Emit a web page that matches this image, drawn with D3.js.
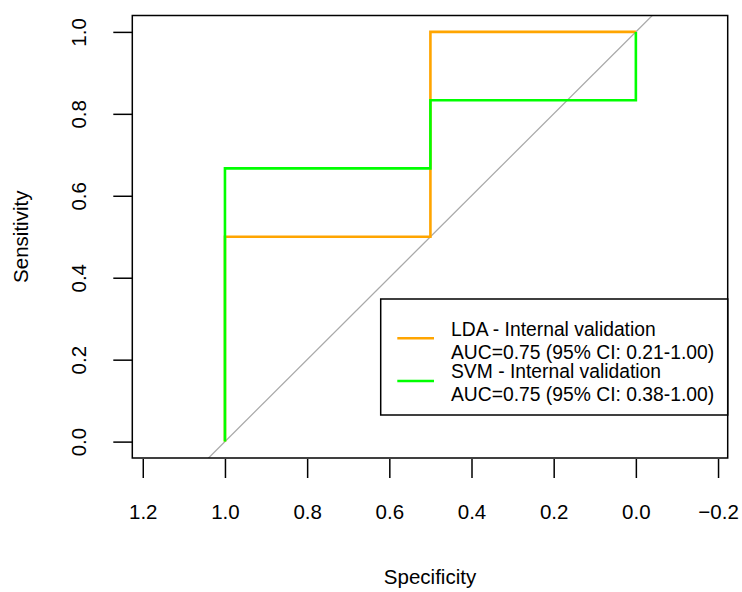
<!DOCTYPE html>
<html>
<head>
<meta charset="utf-8">
<script src="https://cdn.jsdelivr.net/npm/d3@7"></script>
<style>
  body { margin: 0; background: #fff; }
  svg { display: block; font-family: "Liberation Sans", Arial, sans-serif; }
</style>
</head>
<body>
<svg id="chart"></svg>
<script>
// ROC points (specificity, sensitivity)
var ldaSpec = [1, 1, 0.5, 0.5, 0];
var ldaSens = [0, 0.5, 0.5, 1, 1];
var svmSpec = [1, 1, 0.5, 0.5, 0, 0];
var svmSens = [0, 0.667, 0.667, 0.833, 0.833, 1];

var xTicks = [1.2, 1.0, 0.8, 0.6, 0.4, 0.2, 0.0, -0.2];
var yTicks = [0.0, 0.2, 0.4, 0.6, 0.8, 1.0];

var legendNames = ["LDA - Internal validation", "SVM - Internal validation"];
var legendAuc = ["AUC=0.75 (95% CI: 0.21-1.00)", "AUC=0.75 (95% CI: 0.38-1.00)"];
var colors = ["#FFA500", "#00FF00"];

drawChart();

function drawChart() {
  var width = 742, height = 592;
  var left = 132.3, right = 727.7, top = 15.5, bottom = 458;

  var svg = d3.select("#chart")
      .attr("width", width)
      .attr("height", height)
      .attr("viewBox", [0, 0, width, height]);

  var x = d3.scaleLinear([1.2255, -0.2235], [left, right]);
  var y = d3.scaleLinear([-0.04, 1.04], [bottom, top]);

  svg.append("clipPath").attr("id", "plotclip")
    .append("rect")
      .attr("x", left).attr("y", top)
      .attr("width", right - left).attr("height", bottom - top);

  // identity line
  var xd = x.domain();
  svg.append("path")
      .attr("clip-path", "url(#plotclip)")
      .attr("fill", "none")
      .attr("stroke", "#A9A9A9")
      .attr("stroke-width", 1.3)
      .attr("d", d3.line().x(d => x(d)).y(d => y(1 - d))(xd));

  var line = d3.line()
      .x(d => x(d[0]))
      .y(d => y(d[1]));

  var series = [d3.zip(ldaSpec, ldaSens), d3.zip(svmSpec, svmSens)];
  series.forEach(function(pts, i) {
    svg.append("path")
        .attr("fill", "none")
        .attr("stroke", colors[i])
        .attr("stroke-width", 2.6)
        .attr("stroke-linejoin", "miter")
        .attr("d", line(pts));
  });

  // box
  svg.append("rect")
      .attr("x", left).attr("y", top)
      .attr("width", right - left).attr("height", bottom - top)
      .attr("fill", "none")
      .attr("stroke", "#000")
      .attr("stroke-width", 1.5);

  // x axis
  svg.append("g")
      .attr("transform", `translate(0,${bottom + 1})`)
      .call(d3.axisBottom(x).tickValues(xTicks).tickFormat(d3.format(".1f"))
          .tickSize(19).tickPadding(26))
      .call(g => g.select(".domain").remove())
      .call(g => g.selectAll(".tick line").attr("stroke", "#000").attr("stroke-width", 1.5))
      .call(g => g.selectAll(".tick text")
          .attr("font-size", 20.5)
          .attr("fill", "#000")
          .attr("font-family", "Liberation Sans, Arial, sans-serif"));

  // y axis
  svg.append("g")
      .attr("transform", `translate(${left},0)`)
      .call(d3.axisLeft(y).tickValues(yTicks).tickFormat(d3.format(".1f")).tickSize(19))
      .call(g => g.select(".domain").remove())
      .call(g => g.selectAll(".tick line").attr("stroke", "#000").attr("stroke-width", 1.5))
      .call(g => g.selectAll(".tick text")
          .attr("x", 0).attr("dy", null)
          .attr("text-anchor", "middle")
          .attr("transform", `translate(${86 - left},0) rotate(-90)`)
          .attr("font-size", 20.5)
          .attr("fill", "#000")
          .attr("font-family", "Liberation Sans, Arial, sans-serif"));

  // axis titles
  svg.append("text")
      .attr("x", (left + right) / 2)
      .attr("y", 584)
      .attr("text-anchor", "middle")
      .attr("font-size", 20.5)
      .text("Specificity");

  svg.append("text")
      .attr("transform", `translate(28,${(top + bottom) / 2}) rotate(-90)`)
      .attr("text-anchor", "middle")
      .attr("font-size", 20.5)
      .text("Sensitivity");

  // legend
  var lg = svg.append("g");
  lg.append("rect")
      .attr("x", 380.7).attr("y", 299)
      .attr("width", right - 380.7).attr("height", 116)
      .attr("fill", "#fff")
      .attr("stroke", "#000")
      .attr("stroke-width", 1.5);

  var lineY = [338.3, 381];
  var textY = [[335.5, 358.5], [377.5, 401]];
  legendNames.forEach(function(name, i) {
    lg.append("line")
        .attr("x1", 397.3).attr("x2", 434)
        .attr("y1", lineY[i]).attr("y2", lineY[i])
        .attr("stroke", colors[i])
        .attr("stroke-width", 2.6);
    lg.append("text")
        .attr("x", 451).attr("y", textY[i][0])
        .attr("font-size", 19.3)
        .text(name);
    lg.append("text")
        .attr("x", 451).attr("y", textY[i][1])
        .attr("font-size", 19.3)
        .text(legendAuc[i]);
  });
}
</script>
</body>
</html>
